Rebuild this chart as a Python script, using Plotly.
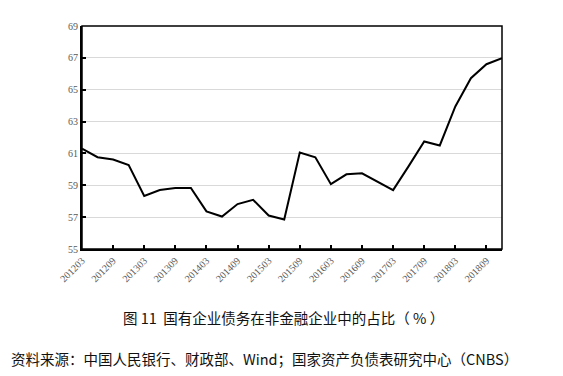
import plotly.graph_objects as go

quarters = [
    "201203", "201206", "201209", "201212",
    "201303", "201306", "201309", "201312",
    "201403", "201406", "201409", "201412",
    "201503", "201506", "201509", "201512",
    "201603", "201606", "201609", "201612",
    "201703", "201706", "201709", "201712",
    "201803", "201806", "201809", "201812",
]
share = [
    61.30, 60.76, 60.62, 60.27,
    58.33, 58.70, 58.83, 58.83,
    57.36, 57.04, 57.82, 58.09,
    57.10, 56.85, 61.05, 60.76,
    59.07, 59.69, 59.75, 59.25,
    58.70, 60.20, 61.75, 61.50,
    63.95, 65.72, 66.60, 66.98,
]
x_tick_labels = quarters[::2]
y_tick_values = [55, 57, 59, 61, 63, 65, 67, 69]

title_text = "图 11  国有企业债务在非金融企业中的占比（ % ）"
source_text = "资料来源：中国人民银行、财政部、Wind；国家资产负债表研究中心（CNBS）"

fig = go.Figure()
fig.add_trace(go.Scatter(
    x=quarters, y=share, mode="lines",
    line=dict(color="black", width=2),
    showlegend=False, hoverinfo="skip",
))

tick_font = dict(family="Liberation Serif", size=10, color="#595959")

fig.update_xaxes(
    type="category", range=[0, len(quarters) - 1],
    tickmode="array", tickvals=x_tick_labels, ticktext=x_tick_labels,
    tickangle=-45, tickfont=tick_font,
    showgrid=False, zeroline=False,
    showline=True, linecolor="black", linewidth=2,
    ticks="inside", ticklen=4, tickcolor="black", tickwidth=2,
)
fig.update_yaxes(
    range=[55, 69], tickmode="array", tickvals=y_tick_values,
    tickfont=tick_font,
    showgrid=True, gridcolor="#d9d9d9", gridwidth=1,
    zeroline=False,
    showline=True, linecolor="black", linewidth=2,
    ticks="inside", ticklen=4, tickcolor="black", tickwidth=2,
)

fig.add_shape(type="rect", xref="paper", yref="paper", x0=0, x1=1, y0=0, y1=1,
              line=dict(color="black", width=1.5), layer="above")

fig.add_annotation(text=title_text, xref="paper", yref="paper",
                   x=0.479, y=-0.308, xanchor="center", yanchor="middle",
                   showarrow=False,
                   font=dict(family="Noto Sans CJK SC", size=14.5, color="#111111"))
fig.add_annotation(text=source_text, xref="paper", yref="paper",
                   x=-0.174, y=-0.489, xanchor="left", yanchor="middle",
                   showarrow=False,
                   font=dict(family="Noto Sans CJK SC", size=14.5, color="#111111"))

fig.update_layout(
    width=555, height=368,
    margin=dict(l=74, r=61, t=14, b=127),
    paper_bgcolor="white", plot_bgcolor="white",
)

fig.write_html("out.html")
